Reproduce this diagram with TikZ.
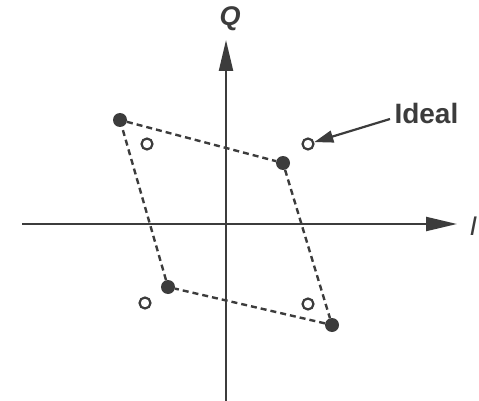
\documentclass[tikz,border=0pt]{standalone}
\usepackage{fontspec}
\setmainfont{Liberation Sans}
\usetikzlibrary{arrows.meta}
\definecolor{ink}{HTML}{3C3C3C}
\begin{document}
\begin{tikzpicture}[x=1pt,y=-1pt,
  axis/.style={draw=ink,line width=2.2pt,-{Triangle[length=31pt,width=14pt]}},
  filled/.style={circle,fill=ink,inner sep=0pt,minimum size=14pt},
  ideal/.style={circle,draw=ink,line width=2.2pt,fill=white,inner sep=0pt,minimum size=11pt},
  edge/.style={draw=ink,line width=2.4pt,dash pattern=on 6pt off 4pt},
  lbl/.style={text=ink,font=\fontsize{28}{31}\selectfont\bfseries}]
\useasboundingbox (0,0) rectangle (479,401);
\clip (0,0) rectangle (479,401);
\coordinate (qb) at (226,401);
\coordinate (qt) at (226,40);
\coordinate (il) at (22,224);
\coordinate (ir) at (457,224);
\draw[axis] (qb) -- (qt);
\draw[axis] (il) -- (ir);
\node[lbl,font=\fontsize{27}{30}\selectfont\bfseries\itshape] (Q) at (230,19) {Q};
\node[lbl,font=\fontsize{27}{30}\selectfont\itshape,anchor=west] (I) at (466,226) {I};
\node[filled] (a) at (120,120) {};
\node[filled] (b) at (283,163) {};
\node[filled] (c) at (332,325) {};
\node[filled] (d) at (168,287) {};
\draw[edge] (a) -- (b) -- (c) -- (d) -- (a);
\node[ideal] (o1) at (147,144) {};
\node[ideal] (o2) at (308,144) {};
\node[ideal] (o3) at (145,303) {};
\node[ideal] (o4) at (308,304) {};
\node[lbl,anchor=west] (id) at (391,113) {Ideal};
\draw[draw=ink,line width=2.2pt,-{Triangle[length=19pt,width=12pt]}] (id.west) ++(-1,6) coordinate (ids) (ids) -- (o2);
\end{tikzpicture}
\end{document}
